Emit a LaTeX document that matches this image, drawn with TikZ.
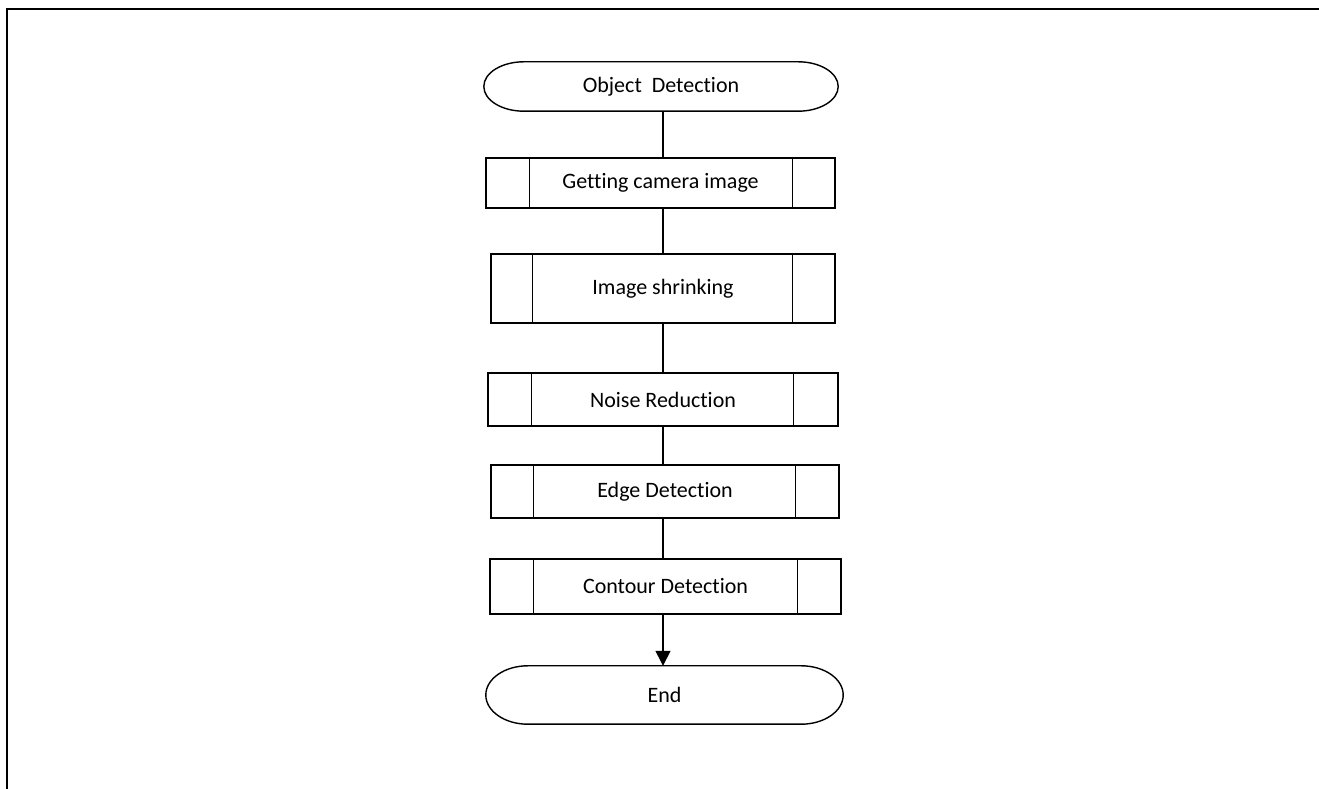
\documentclass[tikz,border=0pt]{standalone}
\usepackage{fontspec}
\setmainfont{Carlito}[Ligatures=CommonOff]
\usetikzlibrary{arrows.meta,calc}
\tikzset{
  boxline/.style={line width=1.4pt},
  procbox/.style={boxline, draw, rectangle, inner sep=0pt, font=\fontsize{22}{25}\selectfont},
  termbox/.style={rectangle, inner sep=0pt, font=\fontsize{22}{25}\selectfont},
  link/.style={line width=1.4pt},
  framed/.style={line width=2.2pt}
}
\newcommand{\innerbars}[3]{%
  \draw[boxline] ([xshift=#2]#1.north west) -- ([xshift=#2]#1.south west);
  \draw[boxline] ([xshift=-#3]#1.north east) -- ([xshift=-#3]#1.south east);}
\newcommand{\termoutline}[2]{%
  \draw[boxline] let \p1=(#1.north west), \p2=(#1.south east), \n1={(\y1-\y2)/2} in
    (\x1+#2pt,\y1) -- (\x2-#2pt,\y1) arc[start angle=90,end angle=-90,x radius=#2pt,y radius=\n1]
    -- (\x1+#2pt,\y2) arc[start angle=270,end angle=90,x radius=#2pt,y radius=\n1] -- cycle;}
\begin{document}
\begin{tikzpicture}[x=1pt,y=1pt]
\useasboundingbox (0,0) rectangle (1319,789);
\coordinate (fTL) at (7,780);
\coordinate (fTR) at (1319,780);
\coordinate (fBL) at (7,0);
\draw[framed] (fTR) -- (fTL) -- (fBL);

\node[termbox, minimum width=354pt, minimum height=49pt] (start) at (661,702.5) {Object~ Detection};
\node[procbox, minimum width=349pt, minimum height=50pt] (g1) at (660.5,606) {Getting camera image};
\node[procbox, minimum width=344pt, minimum height=69pt] (g2) at (663,500.5) {Image shrinking};
\node[procbox, minimum width=350pt, minimum height=53pt] (g3) at (663,389.5) {Noise Reduction};
\node[procbox, minimum width=348pt, minimum height=53pt] (g4) at (665,297.5) {Edge Detection};
\node[procbox, minimum width=351pt, minimum height=55pt] (g5) at (665.5,202.5) {Contour Detection};
\node[termbox, minimum width=357pt, minimum height=58pt] (end) at (664.5,94) {End};

\termoutline{start}{40}
\termoutline{end}{42}
\innerbars{g1}{44}{43}
\innerbars{g2}{42}{43}
\innerbars{g3}{44}{45}
\innerbars{g4}{43}{44}
\innerbars{g5}{44}{44}

\coordinate (ax) at (663,0);
\draw[link] (ax |- start.south) -- (ax |- g1.north);
\draw[link] (ax |- g1.south) -- (ax |- g2.north);
\draw[link] (ax |- g2.south) -- (ax |- g3.north);
\draw[link] (ax |- g3.south) -- (ax |- g4.north);
\draw[link] (ax |- g4.south) -- (ax |- g5.north);
\draw[link, -{Triangle[length=15pt,width=15pt]}] (ax |- g5.south) -- (ax |- end.north);
\end{tikzpicture}
\end{document}
